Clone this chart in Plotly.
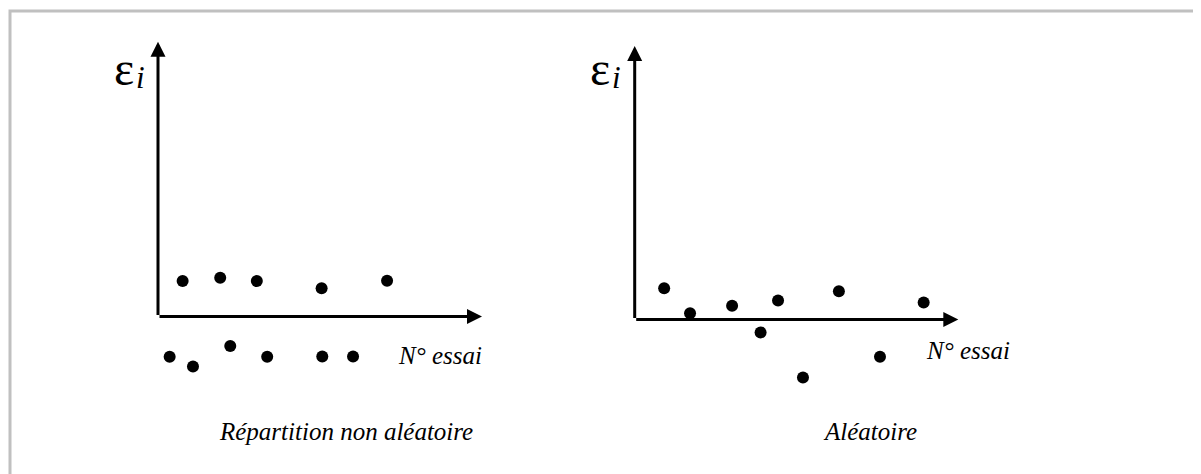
import plotly.graph_objects as go

# Page body has an 8px margin; figure is sized to fit the 1201x474 window
OFF = 8
W, H = 1201 - OFF, 474 - OFF

# Left panel: "Répartition non aléatoire" (trial position, residual)
left_x = [0.36, 0.76, 1.08, 1.92, 2.23, 3.05, 3.37, 5.05, 5.07, 6.02, 7.07]
left_y = [-1.34, 1.18, -1.67, 1.29, -0.98, 1.18, -1.34, 0.94, -1.33, -1.33, 1.19]

# Right panel: "Aléatoire"
right_x = [0.91, 1.71, 3.01, 3.89, 4.43, 5.20, 6.31, 7.58, 8.93]
right_y = [1.04, 0.21, 0.46, -0.43, 0.63, -1.93, 0.94, -1.24, 0.57]

panel_titles = ["Répartition non aléatoire", "Aléatoire"]
y_symbol = "ε"
y_index = "<i>i</i>"
x_label = "<i>N° essai</i>"


def px_x(p):
    return (p - OFF) / W


def px_y(p):
    return 1 - (p - OFF) / H


fig = go.Figure()
fig.add_trace(go.Scatter(x=left_x, y=left_y, mode="markers", xaxis="x", yaxis="y",
                         marker=dict(color="black", size=12), cliponaxis=False, showlegend=False))
fig.add_trace(go.Scatter(x=right_x, y=right_y, mode="markers", xaxis="x2", yaxis="y2",
                         marker=dict(color="black", size=12), cliponaxis=False, showlegend=False))

# y units: 30 px per unit; origin rows in window pixels
L_ORG, L_TOP = 316.5, 41.7
R_ORG, R_TOP = 319.5, 46.0

ax_common = dict(visible=False, fixedrange=True)
fig.update_layout(
    width=W, height=H,
    margin=dict(l=0, r=0, t=0, b=0),
    paper_bgcolor="white", plot_bgcolor="rgba(0,0,0,0)",
    xaxis=dict(domain=[px_x(158), px_x(482)], range=[0, 10], **ax_common),
    yaxis=dict(domain=[0, px_y(L_TOP)], range=[-(474 - L_ORG) / 30, (L_ORG - L_TOP) / 30], **ax_common),
    xaxis2=dict(domain=[px_x(634.7), px_x(958.3)], range=[0, 10], **ax_common),
    yaxis2=dict(domain=[0, px_y(R_TOP)], range=[-(474 - R_ORG) / 30, (R_ORG - R_TOP) / 30], **ax_common),
)

# Gray frame (top and left edges visible)
fig.add_shape(type="rect", xref="paper", yref="paper",
              x0=px_x(10), x1=1.05, y0=-0.05, y1=px_y(11),
              line=dict(color="#c0c0c0", width=3), fillcolor="rgba(0,0,0,0)", layer="below")

arrow_style = dict(showarrow=True, arrowhead=2, arrowsize=1, arrowwidth=3, arrowcolor="black",
                   text="", standoff=0)
for xr, yr, ytop in [("x", "y", (L_ORG - L_TOP) / 30), ("x2", "y2", (R_ORG - R_TOP) / 30)]:
    fig.add_annotation(x=10, y=0, ax=0, ay=0, xref=xr, yref=yr, axref=xr, ayref=yr, **arrow_style)
    fig.add_annotation(x=0, y=ytop, ax=0, ay=0, xref=xr, yref=yr, axref=xr, ayref=yr, **arrow_style)

serif = "Liberation Serif, Times New Roman, serif"
# epsilon_i labels (symbol + lowered italic index)
for ex in [136, 612]:
    fig.add_annotation(x=px_x(ex), y=px_y(68.5), xref="paper", yref="paper", text=y_symbol,
                       showarrow=False, xanchor="right", yanchor="middle",
                       font=dict(family=serif, size=48, color="black"))
    fig.add_annotation(x=px_x(ex - 2), y=px_y(77.5), xref="paper", yref="paper", text=y_index,
                       showarrow=False, xanchor="left", yanchor="middle",
                       font=dict(family=serif, size=31, color="black"))
# N° essai
for lx, cy in [(396, 355), (924, 350)]:
    fig.add_annotation(x=px_x(lx), y=px_y(cy), xref="paper", yref="paper", text=x_label,
                       showarrow=False, xanchor="left", yanchor="middle",
                       font=dict(family=serif, size=25, color="black"))
# panel captions
for cx, t in [(346, panel_titles[0]), (870, panel_titles[1])]:
    fig.add_annotation(x=px_x(cx), y=px_y(431), xref="paper", yref="paper", text="<i>" + t + "</i>",
                       showarrow=False, xanchor="center", yanchor="middle",
                       font=dict(family=serif, size=25, color="black"))

fig.write_html("out.html")
